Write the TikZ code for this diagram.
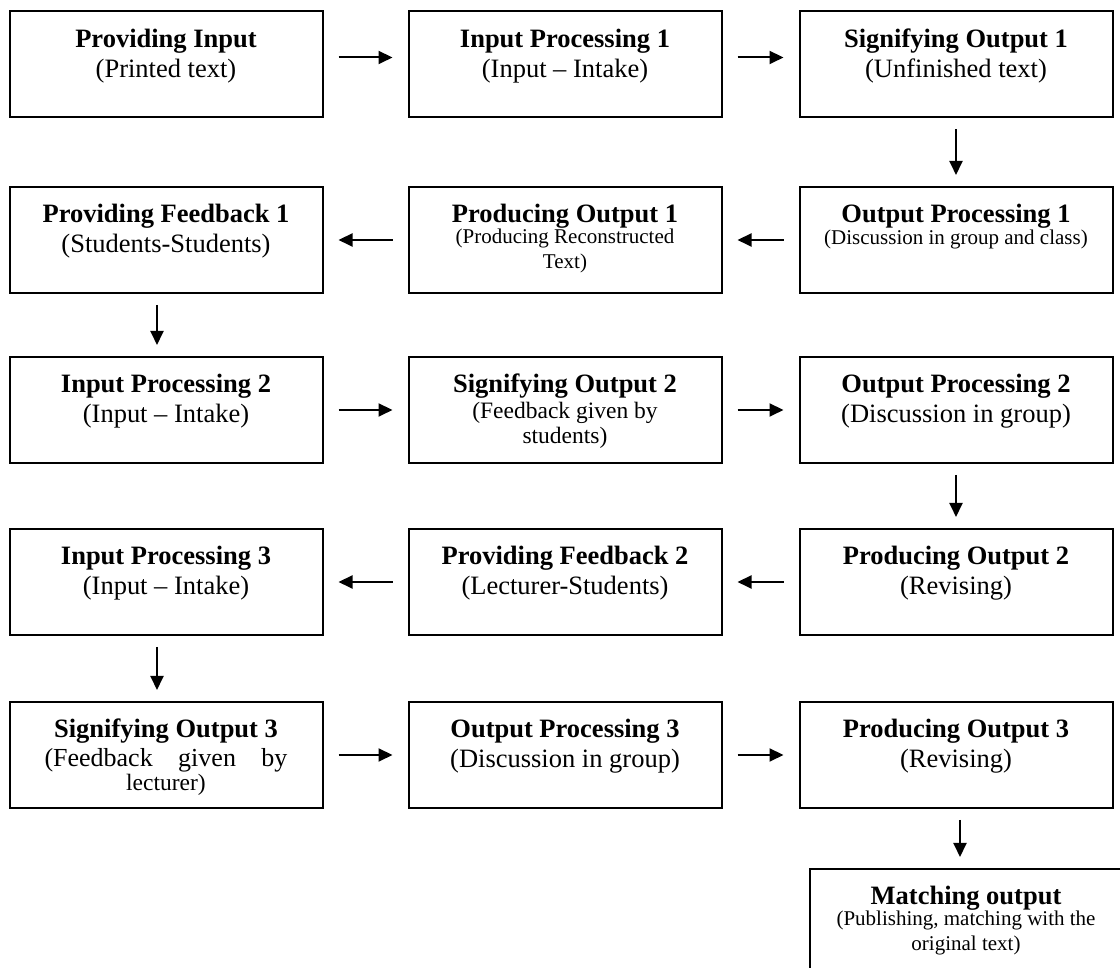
\documentclass[tikz,border=0pt]{standalone}
\usepackage{fontspec}
\setmainfont{Liberation Serif}
\usetikzlibrary{arrows.meta, positioning}

\newcommand{\stage}[3][0pt]{\parbox[t][106pt][t]{304pt}{\centering\rule{0pt}{36pt}\textbf{#2}\\[#1]#3}}
\newcommand{\subsmall}{\fontsize{21}{26}\selectfont}
\newcommand{\submid}{\fontsize{23.5}{28}\selectfont}

\begin{document}
\begin{tikzpicture}[x=1pt,y=1pt,
  stagebox/.style={draw, line width=2pt, inner sep=0pt, minimum width=313pt,
    minimum height=106pt, font=\fontsize{26.5}{30}\selectfont},
  hflow/.style={-{Triangle[length=14pt,width=13pt]}, line width=2pt,
    shorten <=15pt, shorten >=15pt},
  vflow/.style={-{Triangle[length=14pt,width=13pt]}, line width=2pt,
    shorten <=11pt, shorten >=11pt}]
\useasboundingbox (0,0) rectangle (1120,968);

% row 1
\node[stagebox] (pin) at (166,903.5) {\stage{Providing Input}{(Printed text)}};
\node[stagebox] (ip1) at (565,903.5) {\stage{Input Processing 1}{(Input -- Intake)}};
\node[stagebox] (so1) at (956,903.5) {\stage{Signifying Output 1}{(Unfinished text)}};

% row 2
\node[stagebox] (op1) at (956,728) {\stage[-4pt]{Output Processing 1}{\subsmall(Discussion in group and class)}};
\node[stagebox] (pr1) at (565,728) {\stage[-5pt]{Producing Output 1}{\subsmall(Producing Reconstructed\\[-1pt]Text)}};
\node[stagebox] (pf1) at (166,728) {\stage{Providing Feedback 1}{(Students-Students)}};

% row 3
\node[stagebox] (ip2) at (166,558) {\stage{Input Processing 2}{(Input -- Intake)}};
\node[stagebox] (so2) at (565,558) {\stage[-2pt]{Signifying Output 2}{\submid(Feedback given by\\[-3pt]students)}};
\node[stagebox] (op2) at (956,558) {\stage{Output Processing 2}{(Discussion in group)}};

% row 4
\node[stagebox] (pr2) at (956,386) {\stage{Producing Output 2}{(Revising)}};
\node[stagebox] (pf2) at (565,386) {\stage{Providing Feedback 2}{(Lecturer-Students)}};
\node[stagebox] (ip3) at (166,386) {\stage{Input Processing 3}{(Input -- Intake)}};

% row 5
\node[stagebox] (so3) at (166,213) {\stage[-1pt]{Signifying Output 3}{{\fontsize{26}{30}\selectfont\makebox[243pt][s]{(Feedback given by}}\\[-4pt]\submid lecturer)}};
\node[stagebox] (op3) at (565,213) {\stage{Output Processing 3}{(Discussion in group)}};
\node[stagebox] (pr3) at (956,213) {\stage{Producing Output 3}{(Revising)}};

\node[stagebox, minimum width=312pt] (mo) at (966,46) {\stage[-5pt]{Matching output}{\subsmall(Publishing, matching with the\\[-1pt]original text)}};

% connectors
\draw[hflow] ([yshift=7pt]pin.east) -- ([yshift=7pt]ip1.west);
\draw[hflow] ([yshift=7pt]ip1.east) -- ([yshift=7pt]so1.west);
\draw[vflow] (so1.south) -- (op1.north);
\draw[hflow] (op1.west) -- (pr1.east);
\draw[hflow] (pr1.west) -- (pf1.east);
\draw[vflow] ([xshift=-9pt]pf1.south) -- ([xshift=-9pt]ip2.north);
\draw[hflow] (ip2.east) -- (so2.west);
\draw[hflow] (so2.east) -- (op2.west);
\draw[vflow] (op2.south) -- (pr2.north);
\draw[hflow] (pr2.west) -- (pf2.east);
\draw[hflow] (pf2.west) -- (ip3.east);
\draw[vflow] ([xshift=-9pt]ip3.south) -- ([xshift=-9pt]so3.north);
\draw[hflow] (so3.east) -- (op3.west);
\draw[hflow] (op3.east) -- (pr3.west);
\draw[vflow] ([xshift=4pt]pr3.south) -- ([xshift=4pt]pr3.south |- mo.north);
\end{tikzpicture}
\end{document}
